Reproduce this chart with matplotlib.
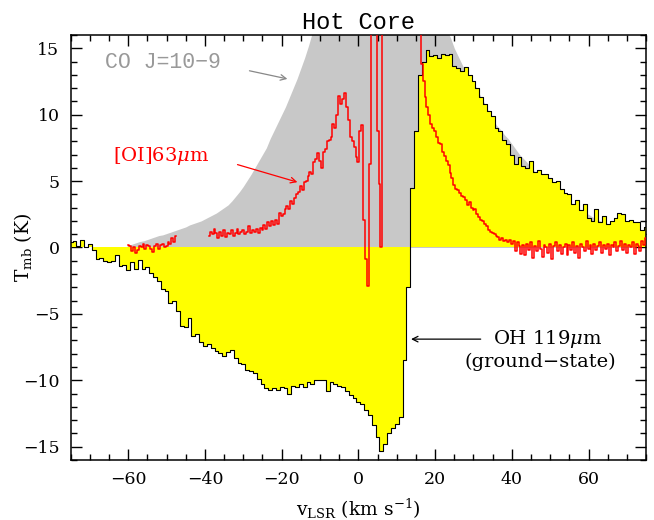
import numpy as np
import matplotlib
matplotlib.use('Agg')
import matplotlib.pyplot as plt
from matplotlib.ticker import MultipleLocator

plt.rcParams['font.family'] = 'DejaVu Serif'
plt.rcParams['mathtext.fontset'] = 'dejavuserif'

# CO J=10-9, 1 km/s channels from -75 to 75
co_start, co_step = -75.0, 1.0
co_tmb = [0.0, 0.0, 0.0, 0.0, 0.0, 0.0, 0.0, 0.0, 0.0, 0.0,
          0.0, 0.0, 0.0, 0.0, 0.0,
          0.15, 0.25, 0.35, 0.45, 0.50, 0.60, 0.70, 0.80, 0.90, 0.95,
          1.05, 1.15, 1.25, 1.35, 1.45, 1.55, 1.70, 1.80, 1.90, 2.00,
          2.15, 2.30, 2.45, 2.60, 2.80, 3.00, 3.20, 3.50, 3.85, 4.20,
          4.60, 5.05, 5.50, 6.00, 6.50, 7.00, 7.50, 8.20, 8.80, 9.40,
          10.0, 10.6, 11.3, 12.0, 12.7, 13.5, 14.3, 15.2, 16.2, 17.3,
          18.5, 19.8, 21.2, 22.6, 24.0, 25.5, 27.0, 28.5, 30.0, 31.5,
          33.0, 34.0, 35.0, 35.5, 35.5, 35.0, 34.0, 33.0, 31.5, 30.0,
          28.5, 27.0, 25.5, 24.0, 23.0, 22.0, 21.0, 20.2, 19.4, 18.7,
          18.0, 17.4, 17.0, 16.4, 15.8, 15.0, 14.4, 13.8, 13.2, 12.8,
          12.4, 11.9, 11.3, 10.8, 10.2, 9.7, 9.2, 8.9, 8.5, 8.2,
          7.8, 7.4, 7.0, 6.7, 6.4, 6.0, 5.7, 5.4, 5.1, 4.8,
          4.6, 4.3, 4.1, 3.8, 3.6, 3.4, 3.2, 3.0, 2.8, 2.6,
          2.5, 2.3, 2.2, 2.0, 1.9, 1.8, 1.7, 1.6, 1.5, 1.4,
          1.3, 1.2, 1.1, 1.0, 1.0, 0.9]

# OH 119um ground-state, 1 km/s channels from -75 to 75
oh_start, oh_step = -75.0, 1.0
oh_tmb = [0.40, 0.50, 0.15, 0.55, 0.00, 0.30, -0.20, -0.90, -0.80, -1.00,
          -1.10, -1.00, -0.60, -1.40, -1.30, -1.70, -1.10, -1.60, -0.95, -1.60,
          -1.50, -1.95, -2.20, -2.50, -3.10, -3.30, -4.20, -4.00, -4.80, -5.90,
          -6.00, -5.30, -6.70, -6.50, -7.10, -7.40, -7.30, -7.60, -7.80, -7.95,
          -8.20, -7.90, -7.70, -8.30, -8.70, -8.80, -9.20, -9.30, -9.45, -9.90,
          -10.30, -10.60, -10.70, -10.60, -10.70, -10.50, -10.60, -11.00, -10.40, -10.50,
          -10.30, -10.50, -10.10, -10.30, -10.00, -9.95, -10.00, -10.80, -10.10, -10.30,
          -10.40, -10.50, -10.80, -11.10, -11.30, -11.60, -11.80, -12.20, -12.60, -13.40,
          -14.30, -15.30, -14.80, -14.00, -13.60, -13.30, -12.80, -8.50, -3.00, 4.50,
          8.80, 13.00, 14.00, 14.90, 14.40, 14.50, 14.30, 14.60, 14.50, 14.60,
          13.70, 13.50, 13.30, 13.60, 13.00, 12.50, 12.00, 11.30, 10.80, 10.30,
          9.90, 9.00, 8.80, 8.10, 7.80, 7.00, 6.30, 6.80, 6.10, 6.00,
          6.50, 5.70, 5.80, 5.50, 5.50, 5.20, 4.90, 5.00, 4.40, 4.10,
          4.00, 3.30, 3.60, 2.80, 3.30, 2.20, 2.00, 2.90, 1.90, 2.40,
          1.80, 2.00, 2.20, 2.60, 2.50, 2.00, 2.10, 1.90, 1.90, 1.30,
          1.55]

# [OI]63um, 0.5 km/s channels, two observed pieces
oi_step = 0.5
oi1_start = -60.0
oi1_tmb = [0.20, 0.10, -0.30, 0.00, -0.45, -0.20, 0.10, 0.00, 0.30, -0.10,
           0.20, 0.15, -0.10, -0.35, 0.10, 0.30, -0.10, 0.20, 0.30, 0.00,
           0.10, 0.40, 0.25, 0.70, 0.40, 0.90]
oi2_start = -39.0
oi2_tmb = [0.9, 1.2, 1.0, 1.4, 1.1, 0.7, 1.2, 0.9, 1.3, 0.8,
           1.1, 1.0, 1.3, 0.9, 1.1, 1.4, 1.0, 1.2, 1.3, 1.0,
           1.2, 1.6, 1.1, 1.3, 1.2, 1.4, 1.1, 1.5, 1.3, 1.7,
           1.4, 1.9, 1.6, 2.0, 1.7, 2.1, 1.8, 2.6, 2.4, 2.5,
           2.9, 3.1, 2.9, 3.5, 3.3, 3.7, 4.0, 4.2, 4.6, 4.3,
           4.9, 5.0, 5.4, 5.7, 5.5, 6.4, 6.7, 7.1, 6.5, 6.0,
           7.2, 7.4, 8.0, 8.1, 8.3, 9.3, 9.0, 10.0, 11.4, 10.8,
           11.2, 11.6, 10.6, 9.6, 8.3, 8.0, 7.6, 6.8,
           6.4, 8.8, 9.2, 2.1, -0.9, -2.9, 6.3, 25.0, 25.0, 25.0,
           8.8, 4.8, 0.05, 25.0, 25.0, 25.0, 25.0, 25.0, 25.0, 25.0,
           25.0, 25.0, 25.0, 25.0, 25.0, 25.0, 25.0, 25.0, 25.0, 25.0,
           25.0, 25.0, 25.0,
           13.8, 12.5, 11.3, 10.6, 10.0, 9.3, 9.0, 8.8, 8.3, 7.9,
           7.8, 7.2, 6.9, 6.5, 6.2, 5.6, 5.2, 4.7, 4.4, 4.3,
           4.1, 3.9, 3.8, 3.6, 3.2, 3.4, 3.0, 2.8, 2.9, 2.5,
           2.3, 2.1, 2.0, 1.8, 1.6, 1.3, 1.2, 1.1, 1.05, 0.9,
           0.8, 0.6, 0.7, 0.5, 0.6, 0.4, 0.55, 0.3, 0.5, -0.3,
           0.4, 0.1, -0.5,
           0.2, -0.6, 0.3, -0.2, 0.4, -0.8, 0.1, -0.3, 0.5, -0.1,
           -0.7, 0.2, 0.0, -0.4, 0.3, -0.9, 0.1, 0.4, -0.3, 0.2,
           -0.5, 0.0, 0.3, -0.6, 0.2, -0.2, 0.4, -0.4, 0.1, -0.8,
           0.3, 0.0, -0.3, 0.5, -0.1, 0.2, -0.5, 0.3, -0.2, 0.1,
           0.4, -0.4, 0.2, -0.1, 0.3, -0.6, 0.2, 0.0, 0.4, -0.3,
           0.1, 0.5, -0.2, 0.3, -0.4, 0.2, 0.0, 0.4, -0.5, 0.3,
           0.1, -0.3, 0.5, 0.2, 0.7]

v_co = co_start + co_step * np.arange(len(co_tmb))
v_oh = oh_start + oh_step * np.arange(len(oh_tmb))
v_oi1 = oi1_start + oi_step * np.arange(len(oi1_tmb))
v_oi2 = oi2_start + oi_step * np.arange(len(oi2_tmb))

fig = plt.figure(figsize=(6.54, 5.2), dpi=100)
ax = fig.add_axes([0.108, 0.1154, 0.880, 0.8173])

# CO as a smooth shaded profile, OH as a filled histogram, [OI] on top
ax.fill_between(v_co, 0, co_tmb, color='#c8c8c8', lw=0, zorder=1)
ax.fill_between(v_oh, 0, oh_tmb, step='mid', color='#ffff00', lw=0, zorder=2)
ax.plot(v_oh, oh_tmb, drawstyle='steps-mid', color='k', lw=0.8, zorder=3)
ax.plot(v_oi1, oi1_tmb, drawstyle='steps-mid', color='#ff0000', lw=1.1, zorder=4)
ax.plot(v_oi2, oi2_tmb, drawstyle='steps-mid', color='#ff0000', lw=1.1, zorder=4)

ax.set_xlim(-75, 75)
ax.set_ylim(-16, 16)
ax.xaxis.set_major_locator(MultipleLocator(20))
ax.xaxis.set_minor_locator(MultipleLocator(5))
ax.yaxis.set_major_locator(MultipleLocator(5))
ax.yaxis.set_minor_locator(MultipleLocator(1))
ax.tick_params(which='both', direction='in', top=True, right=True, width=1.0,
               labelsize=12.5, pad=8)
ax.tick_params(which='major', length=8)
ax.tick_params(which='minor', length=4)
for s in ax.spines.values():
    s.set_linewidth(1.1)

ax.set_title('Hot Core', family='Liberation Mono', fontsize=17, pad=4)
ax.set_xlabel(r'v$_{\rm LSR}$ (km s$^{-1}$)', fontsize=13.5, labelpad=6)
ax.set_ylabel(r'T$_{\rm mb}$ (K)', fontsize=13.5)
ax.yaxis.set_label_coords(-0.063, 0.5)

# line labels
ax.text(-66.0, 13.9, 'CO J=10\u22129', family='Liberation Mono', fontsize=15.5,
        color='#999999', ha='left', va='center')
ax.annotate('', xy=(-17.8, 12.65), xytext=(-29.1, 13.35),
            arrowprops=dict(arrowstyle='->', color='#888888', lw=0.9))
ax.text(-64.0, 6.9, r'[OI]63$\mu$m', fontsize=14, color='#ff0000',
        ha='left', va='center')
ax.annotate('', xy=(-15.2, 4.86), xytext=(-32.2, 6.3),
            arrowprops=dict(arrowstyle='->', color='#ff0000', lw=0.9))
ax.text(49.3, -6.9, r'OH 119$\mu$m', fontsize=14, ha='center', va='center')
ax.text(47.4, -8.6, '(ground\u2212state)', fontsize=14, ha='center', va='center')
ax.annotate('', xy=(13.0, -6.9), xytext=(32.6, -6.9),
            arrowprops=dict(arrowstyle='->', color='k', lw=0.9))

fig.savefig('out.png', dpi=100)
